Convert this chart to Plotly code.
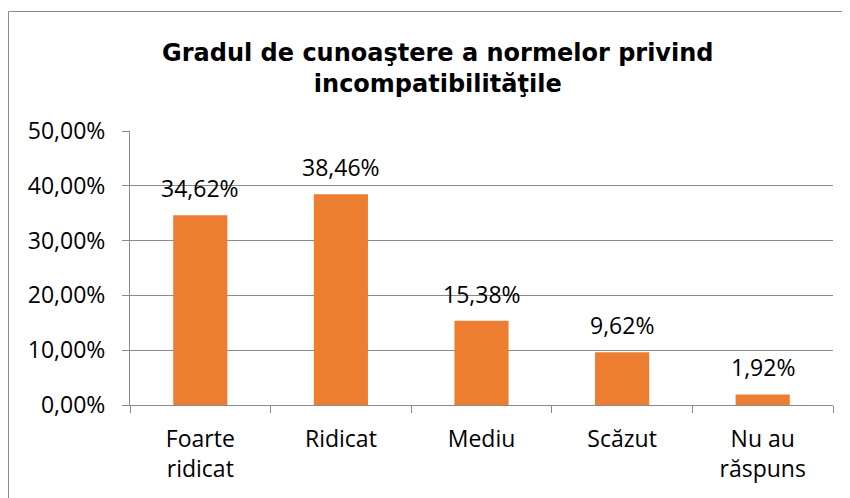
import plotly.graph_objects as go

categories = ["Foarte<br>ridicat", "Ridicat", "Mediu", "Scăzut", "Nu au<br>răspuns"]
values = [0.3462, 0.3846, 0.1538, 0.0962, 0.0192]
title_lines = ["Gradul de cunoaştere a normelor privind", "incompatibilităţile"]

BAR = "#ED7D31"
GRID = "#8a8a8a"
TXT = "#000000"
FONT = "Open Sans"

# the page body has an 8px default margin; work in window pixels and convert
OFF = 8
W, H = 850 - OFF, 498 - OFF
PL, PR, PT, PB = 130, 833, 131, 405   # plot area in window pixels
L, R, T, B = PL - OFF, W - (PR - OFF), PT - OFF, H - (PB - OFF)
pw, ph = PR - PL, PB - PT

def px_x(x):
    return (x - PL) / pw

def px_y(y):
    return (PB - y) / ph

fig = go.Figure()
fig.add_trace(go.Bar(
    x=categories, y=values, marker=dict(color=BAR, line=dict(width=0)),
    hoverinfo="skip",
))

for c, v in zip(categories, values):
    fig.add_annotation(
        x=c, y=v, xref="x", yref="y", yanchor="bottom", yshift=9,
        text=f"{v*100:.2f}%".replace(".", ","), showarrow=False,
        font=dict(family=FONT, size=23, color=TXT),
    )

fig.add_annotation(
    x=px_x(438), y=px_y(68), xref="paper", yref="paper",
    xanchor="center", yanchor="middle", showarrow=False,
    text="<b>" + "<br>".join(title_lines) + "</b>",
    font=dict(family="DejaVu Sans", size=24, color=TXT),
)

# chart border
fig.add_shape(
    type="rect", xref="paper", yref="paper",
    x0=px_x(8.5), x1=px_x(870), y0=px_y(11.5), y1=px_y(520),
    line=dict(color="#8c8c8c", width=1), fillcolor="rgba(0,0,0,0)", layer="below",
)

fig.update_layout(
    width=W, height=H, margin=dict(l=L, r=R, t=T, b=B),
    paper_bgcolor="white", plot_bgcolor="white",
    separators=",.", bargap=0.615, showlegend=False,
    font=dict(family=FONT, size=23, color=TXT),
)
fig.update_yaxes(
    range=[0, 0.5], dtick=0.1, tickformat=".2%",
    showgrid=True, gridcolor=GRID, gridwidth=1,
    showline=True, linecolor=GRID, linewidth=1,
    ticks="outside", ticklen=7, tickcolor=GRID,
    ticklabelstandoff=12, zeroline=False, automargin=False,
    tickfont=dict(family=FONT, size=23, color=TXT),
)
fig.update_xaxes(
    showline=True, linecolor=GRID, linewidth=1,
    ticks="outside", ticklen=7, tickcolor=GRID, tickson="boundaries",
    showgrid=False, tickfont=dict(family=FONT, size=23, color=TXT),
    ticklabelstandoff=13, automargin=False,
)

fig.write_html("out.html")
